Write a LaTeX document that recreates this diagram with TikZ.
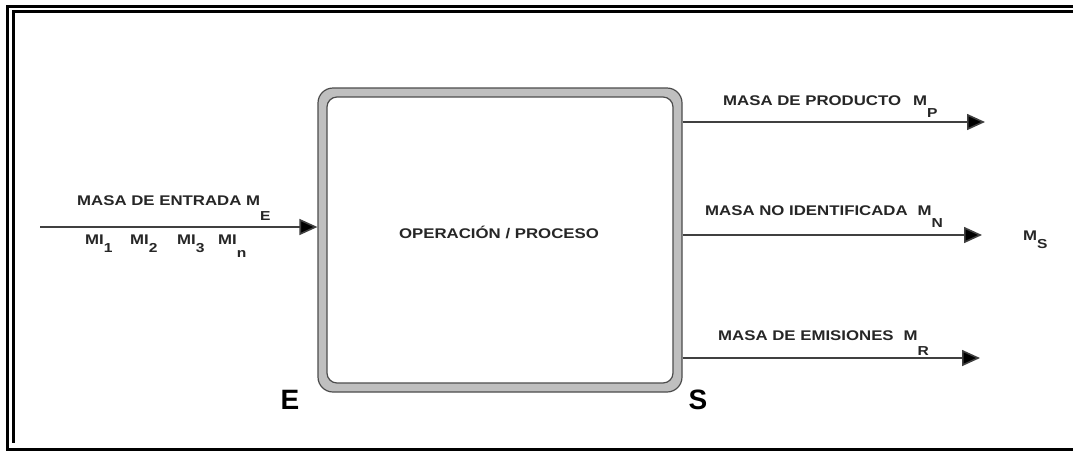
\documentclass[tikz,border=0pt]{standalone}
\usepackage{fontspec}
\setmainfont{Liberation Sans}
\newfontfamily\lblfont[FakeStretch=1.2]{Liberation Sans}
\usetikzlibrary{arrows.meta}
% subscript set fully below the baseline
\newcommand\lowidx[2]{\raisebox{-#1}{\fontsize{13}{13}\selectfont #2}}
\begin{document}
\begin{tikzpicture}[
    x=1pt, y=-1pt,
    lbl/.style={font=\lblfont\bfseries\fontsize{14}{14}\selectfont, text=black!85, inner sep=0pt, anchor=base west},
    side/.style={font=\bfseries\fontsize{28}{28}\selectfont, inner sep=0pt},
    flow/.style={draw=black!75, line width=1.6pt, -{Triangle[length=18pt,width=16pt,fill=black]}},
    frame/.style={draw=black, line width=3.5pt},
  ]
    \useasboundingbox[fill=white] (0,0) rectangle (1073,451);

    % === outer frame ===
    \draw[frame] (1090,6.5) -- (7.5,6.5) -- (7.5,449.5) -- (1090,449.5);
    \draw[frame, line width=2.5pt] (1090,11.5) -- (13.5,11.5) -- (13.5,443);

    % === process box ===
    \node[draw=black!70, line width=1.2pt, fill=gray!50, rounded corners=15pt,
          minimum width=364pt, minimum height=304pt] (proc) at (500,240) {};
    \node[draw=black!70, line width=1.2pt, fill=white, rounded corners=10pt,
          minimum width=346pt, minimum height=286pt] (procin) at (proc.center) {};
    \node[lbl, anchor=base] (title) at (499,238) {OPERACIÓN / PROCESO};

    \node[side] (ent) at (290,400) {E};
    \node[side] (sal) at (698,400) {S};

    % === input ===
    \coordinate (inStart) at (40,227);
    \draw[flow] (inStart) -- (inStart -| proc.west);
    \node[lbl] (inLbl) at (77,205) {MASA DE ENTRADA M\lowidx{15pt}{E}};
    \foreach \k/\x/\d in {1/85/8pt, 2/130/8pt, 3/177/8pt, n/218/13pt} {
      \node[lbl] (mi\k) at (\x,244) {MI\lowidx{\d}{\k}};
    }

    % === outputs ===
    \coordinate (outP) at (985,122);
    \coordinate (outN) at (982,235);
    \coordinate (outR) at (980,358);
    \draw[flow] (proc.east |- outP) -- (outP);
    \draw[flow] (proc.east |- outN) -- (outN);
    \draw[flow] (proc.east |- outR) -- (outR);

    \node[lbl] (lblP) at (723,105) {MASA DE PRODUCTO\hspace{12pt}M\lowidx{12pt}{P}};
    \node[lbl] (lblN) at (705,215) {MASA NO IDENTIFICADA\hspace{10pt}M\lowidx{12pt}{N}};
    \node[lbl] (lblR) at (718,340) {MASA DE EMISIONES\hspace{10pt}M\lowidx{15pt}{R}};
    \node[lbl] (lblS) at (1023,240) {M\lowidx{8pt}{S}};
  \end{tikzpicture}
\end{document}
